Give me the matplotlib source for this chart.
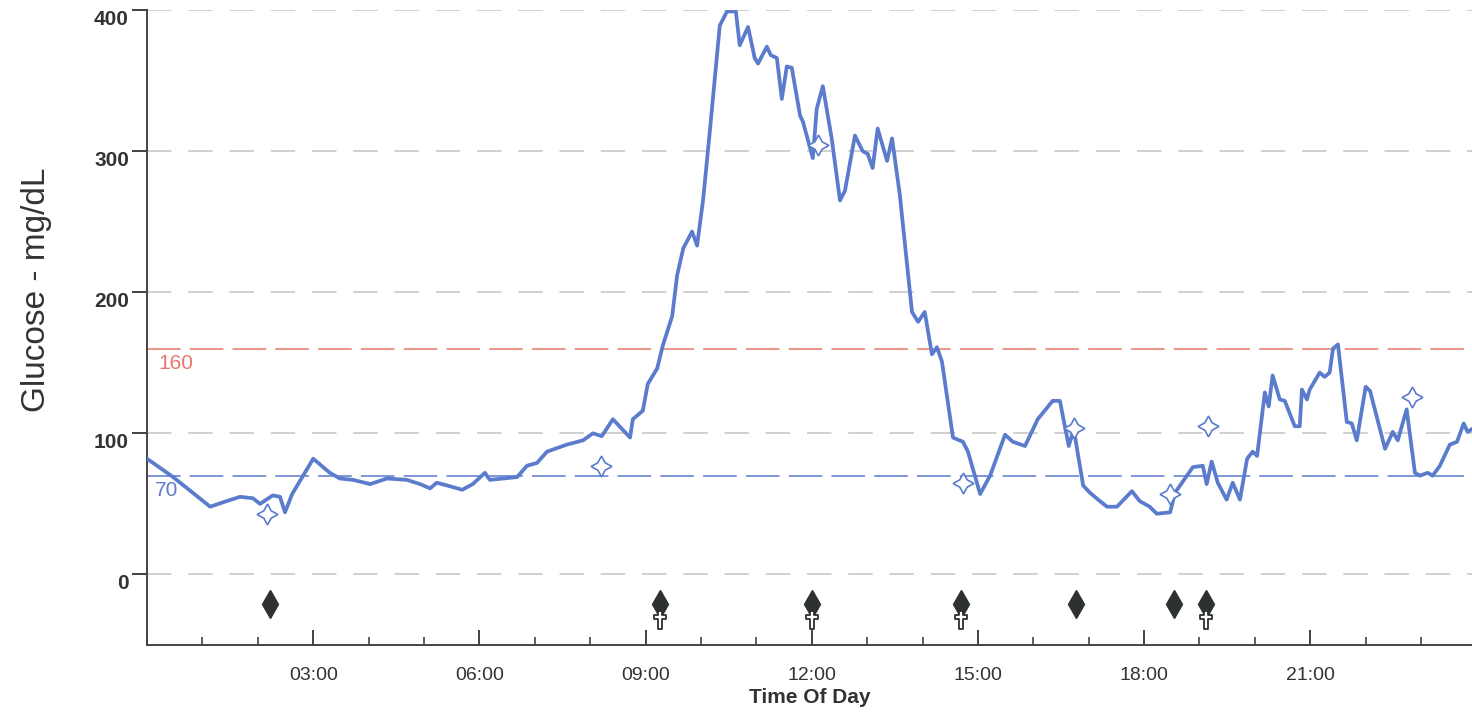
import numpy as np
import matplotlib
matplotlib.use("Agg")
import matplotlib.pyplot as plt
from matplotlib.path import Path
from matplotlib.ticker import MultipleLocator

plt.rcParams['font.family'] = ['Liberation Sans', 'DejaVu Sans']

# glucose trace (hours, mg/dL)
hours = [0.00, 0.47, 1.14, 1.44, 1.68, 1.91, 2.04, 2.27, 2.40, 2.49, 2.62, 3.00,
         3.30, 3.48, 3.72, 4.03, 4.33, 4.69, 4.93, 5.11, 5.23, 5.42, 5.69, 5.88,
         6.10, 6.19, 6.68, 6.86, 7.04, 7.22, 7.58, 7.87, 8.05, 8.21, 8.41, 8.72,
         8.77, 8.95, 9.04, 9.21, 9.31, 9.48, 9.57, 9.68, 9.84, 9.93, 10.04, 10.16,
         10.34, 10.47, 10.63, 10.70, 10.85, 10.97, 11.03, 11.19, 11.26, 11.37,
         11.46, 11.55, 11.64, 11.79, 11.84, 12.02, 12.09, 12.20, 12.36, 12.51,
         12.60, 12.78, 12.92, 13.01, 13.10, 13.19, 13.36, 13.45, 13.59, 13.81,
         13.92, 14.04, 14.17, 14.26, 14.35, 14.55, 14.73, 14.82, 15.04, 15.22,
         15.49, 15.63, 15.85, 16.08, 16.35, 16.48, 16.64, 16.73, 16.90, 17.02,
         17.17, 17.33, 17.51, 17.78, 17.92, 18.10, 18.23, 18.47, 18.56, 18.88,
         19.06, 19.13, 19.22, 19.33, 19.49, 19.60, 19.73, 19.86, 19.96, 20.04,
         20.18, 20.25, 20.32, 20.45, 20.54, 20.72, 20.81, 20.85, 20.94, 20.99,
         21.17, 21.26, 21.35, 21.41, 21.50, 21.66, 21.75, 21.84, 22.00, 22.08,
         22.35, 22.49, 22.58, 22.74, 22.89, 22.98, 23.12, 23.21, 23.34, 23.52,
         23.65, 23.77, 23.84, 23.92]
glucose = [82, 69, 48, 52, 55, 54, 50, 56, 55, 44, 57, 82,
           72, 68, 67, 64, 68, 67, 64, 61, 65, 63, 60, 64,
           72, 67, 69, 77, 79, 87, 92, 95, 100, 98, 110, 97,
           110, 116, 135, 146, 162, 183, 212, 231, 243, 233, 266, 314,
           389, 399, 399, 375, 388, 366, 362, 374, 368, 366,
           337, 360, 359, 325, 321, 295, 330, 346, 309, 265,
           272, 311, 300, 298, 288, 316, 293, 309, 269, 186,
           179, 186, 156, 161, 151, 97, 94, 87, 57, 70,
           99, 94, 91, 110, 123, 123, 91, 103, 63, 58,
           53, 48, 48, 59, 52, 48, 43, 44, 58, 76,
           77, 64, 80, 65, 53, 65, 53, 82, 87, 84,
           129, 119, 141, 124, 123, 105, 105, 131, 124, 131,
           143, 140, 143, 160, 163, 108, 107, 95, 133, 130,
           89, 101, 95, 117, 72, 70, 72, 70, 77, 92,
           94, 107, 101, 103]

# fingerstick readings (star markers)
bg_hours = [2.17, 8.19, 12.11, 14.73, 16.73, 18.47, 19.15, 22.83]
bg_values = [43, 77, 304, 65, 104, 57, 105, 126]

# event rows below zero
meal_hours = [2.22, 9.26, 12.0, 14.69, 16.77, 18.54, 19.11]
insulin_hours = [9.26, 12.0, 14.69, 19.11]

high_limit = 160
low_limit = 70

blue = '#5b7bcc'
red = '#e8776a'
dark = '#2d322e'

# latin cross outline for the insulin row
cross = Path([(-0.2, 1.0), (0.2, 1.0), (0.2, 0.55), (0.7, 0.55), (0.7, 0.15),
              (0.2, 0.15), (0.2, -1.0), (-0.2, -1.0), (-0.2, 0.15),
              (-0.7, 0.15), (-0.7, 0.55), (-0.2, 0.55), (-0.2, 1.0)], closed=True)

fig = plt.figure(figsize=(14.72, 7.13), dpi=100)
ax = fig.add_axes([0.0999, 0.0954, 0.9001, 0.8906])

for v in [0, 100, 200, 300, 400]:
    ax.axhline(v, color='#c4c4c4', lw=1.1, ls=(0, (16, 11)), zorder=1)
ax.axhline(high_limit, color=red, lw=1.1, ls=(0, (22, 6)), zorder=1)
ax.axhline(low_limit, color=blue, lw=1.1, ls=(0, (22, 6)), zorder=1)
ax.text(0.2, high_limit - 4, '160', color=red, fontsize=15, va='top', ha='left')
ax.text(0.15, low_limit - 4, '70', color=blue, fontsize=15, va='top', ha='left')

ax.plot(hours, glucose, color=blue, lw=2.7, zorder=3, solid_joinstyle='round')
ax.plot(bg_hours, bg_values, ls='none', marker=(4, 1, 0), ms=15, mfc='white',
        mec=blue, mew=1.2, zorder=4)

ax.plot(meal_hours, [-21] * len(meal_hours), ls='none', marker='d', ms=14,
        color=dark, zorder=4)
ax.plot(insulin_hours, [-32] * len(insulin_hours), ls='none', marker=cross,
        ms=13, mfc='white', mec=dark, mew=1.3, zorder=4)

ax.set_xlim(0, 23.92)
ax.set_ylim(-50, 400)

ax.set_xticks([3, 6, 9, 12, 15, 18, 21])
ax.set_xticklabels(['03:00', '06:00', '09:00', '12:00', '15:00', '18:00', '21:00'])
ax.xaxis.set_minor_locator(MultipleLocator(1))
ax.tick_params(axis='x', which='major', direction='in', length=11, width=1.3,
               colors='#333333', labelsize=14, pad=16)
ax.tick_params(axis='x', which='minor', direction='in', length=6, width=1.1,
               colors='#333333')

ax.set_yticks([0, 100, 200, 300, 400])
ax.tick_params(axis='y', which='major', direction='out', length=11, width=1.3,
               colors='#333333', labelsize=15, pad=2)
for lab in ax.get_yticklabels():
    lab.set_fontweight('bold')
    lab.set_verticalalignment('top')

for side in ['top', 'right']:
    ax.spines[side].set_visible(False)
for side in ['left', 'bottom']:
    ax.spines[side].set_color('#444444')
    ax.spines[side].set_linewidth(1.4)

ax.set_xlabel('Time Of Day', fontsize=15, fontweight='bold', color='#333333',
              labelpad=3)
ax.set_ylabel('Glucose - mg/dL', fontsize=24, color='#333333')
ax.yaxis.set_label_coords(-0.072, 0.56)

fig.savefig('out.png', dpi=100)
